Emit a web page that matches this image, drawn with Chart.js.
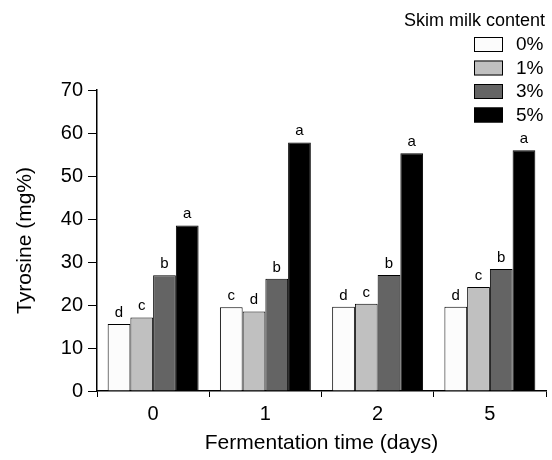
<!DOCTYPE html>
<html>
<head>
<meta charset="utf-8">
<script src="https://cdn.jsdelivr.net/npm/chart.js@4/dist/chart.umd.min.js"></script>
<style>
  html, body { margin: 0; padding: 0; background: #fff; }
  #wrap { width: 552px; height: 460px; }
</style>
</head>
<body>
<div id="wrap"><canvas id="c" width="552" height="460"></canvas></div>
<script>
const days = ["0", "1", "2", "5"];
const skimLabels = ["0%", "1%", "3%", "5%"];
const skim0 = [15.6, 19.5, 19.6, 19.6];
const skim1 = [17.1, 18.5, 20.3, 24.2];
const skim3 = [26.9, 26.1, 27.0, 28.4];
const skim5 = [38.5, 57.8, 55.3, 56.0];
const letters0 = ["d", "c", "d", "d"];
const letters1 = ["c", "d", "c", "c"];
const letters3 = ["b", "b", "b", "b"];
const letters5 = ["a", "a", "a", "a"];
const yTicks = [0, 10, 20, 30, 40, 50, 60, 70];

const FONT = "Arial, 'Liberation Sans', sans-serif";
const fills = ["#fcfcfc", "#c0c0c0", "#646464", "#000000"];
const series = [skim0, skim1, skim3, skim5];
const letters = [letters0, letters1, letters3, letters5];

// letters over the bars
const letterPlugin = {
  id: "letters",
  afterDatasetsDraw(chart) {
    const ctx = chart.ctx;
    ctx.save();
    ctx.fillStyle = "#000";
    ctx.font = "15px " + FONT;
    ctx.textAlign = "center";
    ctx.textBaseline = "alphabetic";
    chart.data.datasets.forEach((ds, i) => {
      chart.getDatasetMeta(i).data.forEach((bar, j) => {
        ctx.fillText(letters[i][j], bar.x, bar.y - 7);
      });
    });
    ctx.restore();
  }
};

// legend block in the upper right
const legendPlugin = {
  id: "skimLegend",
  afterDraw(chart) {
    const ctx = chart.ctx;
    ctx.save();
    ctx.fillStyle = "#000";
    ctx.font = "18px " + FONT;
    ctx.textBaseline = "middle";
    ctx.textAlign = "right";
    ctx.fillText("Skim milk content", 545, 21);
    ctx.textAlign = "left";
    ctx.font = "19px " + FONT;
    chart.data.datasets.forEach((ds, i) => {
      const y = 37 + i * 23.5;
      ctx.fillStyle = ds.backgroundColor;
      ctx.fillRect(474, y, 29, 15);
      ctx.strokeStyle = "#000";
      ctx.lineWidth = 1;
      ctx.strokeRect(474.5, y + 0.5, 28, 14);
      ctx.fillStyle = "#000";
      ctx.fillText(ds.label, 516, y + 8);
    });
    ctx.restore();
  }
};

new Chart(document.getElementById("c"), {
  type: "bar",
  data: {
    labels: days,
    datasets: series.map((vals, i) => ({
      label: skimLabels[i],
      data: vals,
      backgroundColor: fills[i],
      borderColor: "#000",
      borderWidth: 1,
      categoryPercentage: 0.81,
      barPercentage: 1
    }))
  },
  options: {
    responsive: false,
    animation: false,
    layout: { padding: { top: 90, right: 6, left: 0, bottom: 0 } },
    plugins: {
      legend: { display: false },
      tooltip: { enabled: false }
    },
    scales: {
      x: {
        afterFit(scale) { scale.height = 69; },
        grid: {
          offset: true,
          drawOnChartArea: false,
          tickLength: 6,
          color: "#000"
        },
        border: { color: "#000", width: 1.5 },
        ticks: { color: "#000", font: { size: 20, family: FONT }, padding: 5 },
        title: {
          display: true,
          text: "Fermentation time (days)",
          color: "#000",
          font: { size: 21, family: FONT },
          padding: { top: 3 }
        }
      },
      y: {
        min: 0,
        max: 70,
        afterFit(scale) { scale.width = 97; },
        afterBuildTicks(scale) { scale.ticks = yTicks.map(v => ({ value: v })); },
        grid: {
          drawOnChartArea: false,
          tickLength: 9,
          color: "#000"
        },
        border: { color: "#000", width: 1.5 },
        ticks: { color: "#000", font: { size: 20, family: FONT }, padding: 5 },
        title: {
          display: true,
          text: "Tyrosine (mg%)",
          color: "#000",
          font: { size: 21, family: FONT },
          padding: { bottom: 0, top: 13 }
        }
      }
    }
  },
  plugins: [letterPlugin, legendPlugin]
});
</script>
</body>
</html>
